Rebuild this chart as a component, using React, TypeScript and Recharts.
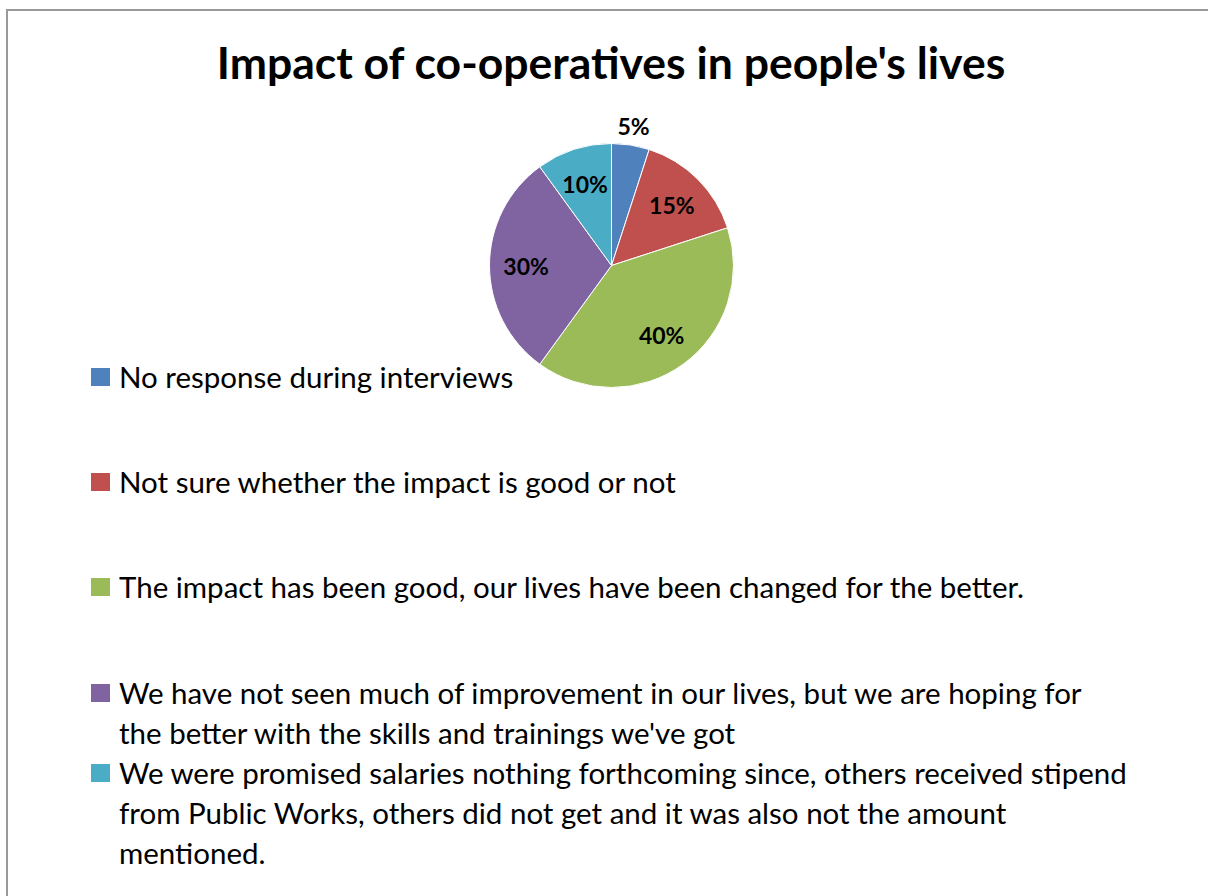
import { PieChart, Pie, Cell, Legend } from "recharts";

const categories = [
  "No response during interviews",
  "Not sure whether the impact is good or not",
  "The impact has been good, our lives have been changed for the better.",
  "We have not seen much of improvement in our lives, but we are hoping for the better with the skills and trainings we've got",
  "We were promised salaries nothing forthcoming since, others received stipend from Public Works, others did not get and it was also not the amount mentioned.",
];

// how the legend text wraps in the original
const legendLines = [
  ["No response during interviews"],
  ["Not sure whether the impact is good or not"],
  ["The impact has been good, our lives have been changed for the better."],
  [
    "We have not seen much of improvement in our lives, but we are hoping for",
    "the better with the skills and trainings we've got",
  ],
  [
    "We were promised salaries nothing forthcoming since, others received stipend",
    "from Public Works, others did not get and it was also not the amount",
    "mentioned.",
  ],
];

const shares = [5, 15, 40, 30, 10];

const colors = ["#4F81BD", "#C0504D", "#9BBB59", "#8064A2", "#4BACC6"];

const title = "Impact of co-operatives in people's lives";

const data = categories.map((name, i) => ({ name, value: shares[i] }));

const FONT = "Lato, 'Open Sans', sans-serif";
const RAD = Math.PI / 180;
const legendTops = [377, 482, 587, 693, 773];
const LINE_H = 40;

const renderLabel = (props: any) => {
  const { cx, cy, midAngle, outerRadius, percent } = props;
  const r = percent < 0.07 ? outerRadius + 19 : outerRadius * 0.7;
  const x = cx + r * Math.cos(-midAngle * RAD);
  const y = cy + r * Math.sin(-midAngle * RAD);
  return (
    <text
      x={x}
      y={y}
      textAnchor="middle"
      dominantBaseline="central"
      fill="#000"
      fontFamily={FONT}
      fontWeight="bold"
      fontSize={23}
    >
      {`${Math.round(percent * 100)}%`}
    </text>
  );
};

const renderLegend = (props: any) => {
  const payload = props.payload || [];
  return (
    <div style={{ position: "relative", width: 1208, height: 896 }}>
      {payload.map((entry: any, i: number) => (
        <div
          key={i}
          style={{
            position: "absolute",
            left: 91,
            top: legendTops[i] - LINE_H / 2,
            fontFamily: FONT,
            fontSize: 29.5,
            lineHeight: `${LINE_H}px`,
            color: "#000",
            whiteSpace: "nowrap",
          }}
        >
          <span
            style={{
              position: "absolute",
              left: 0,
              top: 11,
              width: 19,
              height: 18,
              background: entry.color,
            }}
          />
          <div style={{ marginLeft: 28 }}>
            {legendLines[i].map((line, j) => (
              <div key={j}>{line}</div>
            ))}
          </div>
        </div>
      ))}
    </div>
  );
};

export default function App() {
  return (
    <div
      style={{
        position: "fixed",
        left: 0,
        top: 0,
        width: 1208,
        height: 896,
        overflow: "hidden",
        background: "#fff",
      }}
    >
      {/* chart frame: only the top and left edges fall inside the picture */}
      <div
        style={{
          position: "absolute",
          left: 6,
          top: 9,
          width: 1202,
          height: 2,
          background: "#999",
        }}
      />
      <div
        style={{
          position: "absolute",
          left: 6,
          top: 9,
          width: 2,
          height: 887,
          background: "#999",
        }}
      />
      <div
        style={{
          position: "absolute",
          left: 0,
          top: 36,
          width: 1222,
          textAlign: "center",
          fontFamily: FONT,
          fontWeight: "bold",
          fontSize: 44.5,
          lineHeight: "52px",
          color: "#000",
        }}
      >
        {title}
      </div>
      <div style={{ position: "absolute", left: 0, top: 0 }}>
        <PieChart
          width={1208}
          height={896}
          margin={{ top: 0, right: 0, bottom: 0, left: 0 }}
        >
          <Pie
            data={data}
            dataKey="value"
            nameKey="name"
            cx={611.5}
            cy={265.5}
            outerRadius={122}
            startAngle={90}
            endAngle={-270}
            stroke="#fff"
            strokeWidth={1}
            label={renderLabel}
            labelLine={false}
            isAnimationActive={false}
          >
            {data.map((d, i) => (
              <Cell key={d.name} fill={colors[i]} />
            ))}
          </Pie>
          <Legend
            layout="horizontal"
            verticalAlign="middle"
            align="center"
            content={renderLegend}
            wrapperStyle={{ left: 0, top: 0, width: 1208, height: 896 }}
          />
        </PieChart>
      </div>
    </div>
  );
}
